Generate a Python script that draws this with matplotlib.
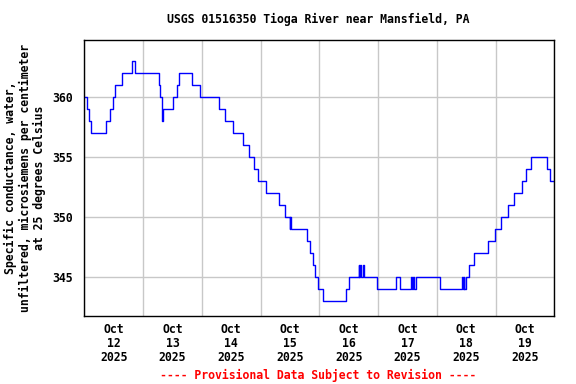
import matplotlib
matplotlib.use("Agg")
import matplotlib.pyplot as plt
import numpy as np

# hours since Oct 12 2025 00:00 (step starts) and conductance values
hours = [0.0, 1.0, 1.8, 2.8, 8.7, 10.6, 11.8, 12.7, 15.3, 19.4, 20.6, 30.6, 31.0,
         31.6, 31.8, 32.1, 36.4, 37.8, 38.8, 44.1, 47.4, 54.9, 57.4, 60.7, 64.7,
         67.4, 69.3, 71.0, 74.1, 79.6, 81.9, 84.0, 84.2, 84.4, 91.0, 92.2, 93.3,
         94.4, 95.6, 97.5, 107.0, 108.0, 112.2, 112.4, 112.8, 113.0, 114.0, 114.3,
         119.5, 127.2, 129.1, 133.6, 133.8, 134.4, 134.6, 135.4, 145.5, 154.4,
         154.7, 155.0, 155.3, 155.9, 157.3, 159.3, 165.0, 167.7, 170.3, 173.0,
         175.7, 178.8, 180.6, 182.6, 189.0, 190.2, 191.6]
values = [360, 359, 358, 357, 358, 359, 360, 361, 362, 363, 362, 361, 360,
          359, 358, 359, 360, 361, 362, 361, 360, 359, 358, 357, 356,
          355, 354, 353, 352, 351, 350, 349, 350, 349, 348, 347, 346,
          345, 344, 343, 344, 345, 346, 345, 346, 345, 346, 345,
          344, 345, 344, 345, 344, 345, 344, 345, 344, 345,
          344, 345, 344, 345, 346, 347, 348, 349, 350, 351,
          352, 353, 354, 355, 354, 353, 353]

day_labels = ["Oct\n12\n2025", "Oct\n13\n2025", "Oct\n14\n2025", "Oct\n15\n2025",
              "Oct\n16\n2025", "Oct\n17\n2025", "Oct\n18\n2025", "Oct\n19\n2025"]
yticks = [345, 350, 355, 360]

FONT = "DejaVu Sans Mono"
FS = 8.3

fig = plt.figure(figsize=(5.76, 3.84), dpi=100)
ax = fig.add_axes([84.3/576, 1-316/384, (554.3-84.3)/576, (316-39.5)/384])

ax.plot(hours, values, drawstyle="steps-post", color="#0000ff", lw=1.0)

ax.set_xlim(0, 192)
ax.set_ylim(341.75, 364.77)
ax.set_xticks(np.arange(0, 193, 24))
ax.set_xticklabels([])
ax.set_xticks(np.arange(12, 192, 24), minor=True)
ax.set_xticklabels(day_labels, minor=True, fontfamily=FONT, fontweight="bold",
                   fontsize=FS, linespacing=1.1)
ax.set_yticks(yticks)
ax.set_yticklabels([str(y) for y in yticks], fontfamily=FONT, fontweight="bold", fontsize=FS)
ax.tick_params(axis="both", which="both", length=0)
ax.tick_params(axis="x", which="minor", pad=5)
ax.tick_params(axis="y", pad=8)
ax.grid(True, which="major", color="#c8c8c8", lw=1.0)
ax.set_axisbelow(True)
for s in ax.spines.values():
    s.set_linewidth(1.0)
    s.set_color("black")

fig.text(318/576, 1-19/384, "USGS 01516350 Tioga River near Mansfield, PA",
         ha="center", va="center", fontfamily=FONT, fontweight="bold", fontsize=FS)
fig.text(25/576, 1-177.7/384,
         "Specific conductance, water,\nunfiltered, microsiemens per centimeter\nat 25 degrees Celsius",
         rotation=90, ha="center", va="center", multialignment="center",
         fontfamily=FONT, fontweight="bold", fontsize=FS, linespacing=1.1)
fig.text(318/576, 1-375/384, "---- Provisional Data Subject to Revision ----",
         ha="center", va="center", color="red", fontfamily=FONT, fontweight="bold", fontsize=FS)

fig.savefig("out.png", dpi=100)
